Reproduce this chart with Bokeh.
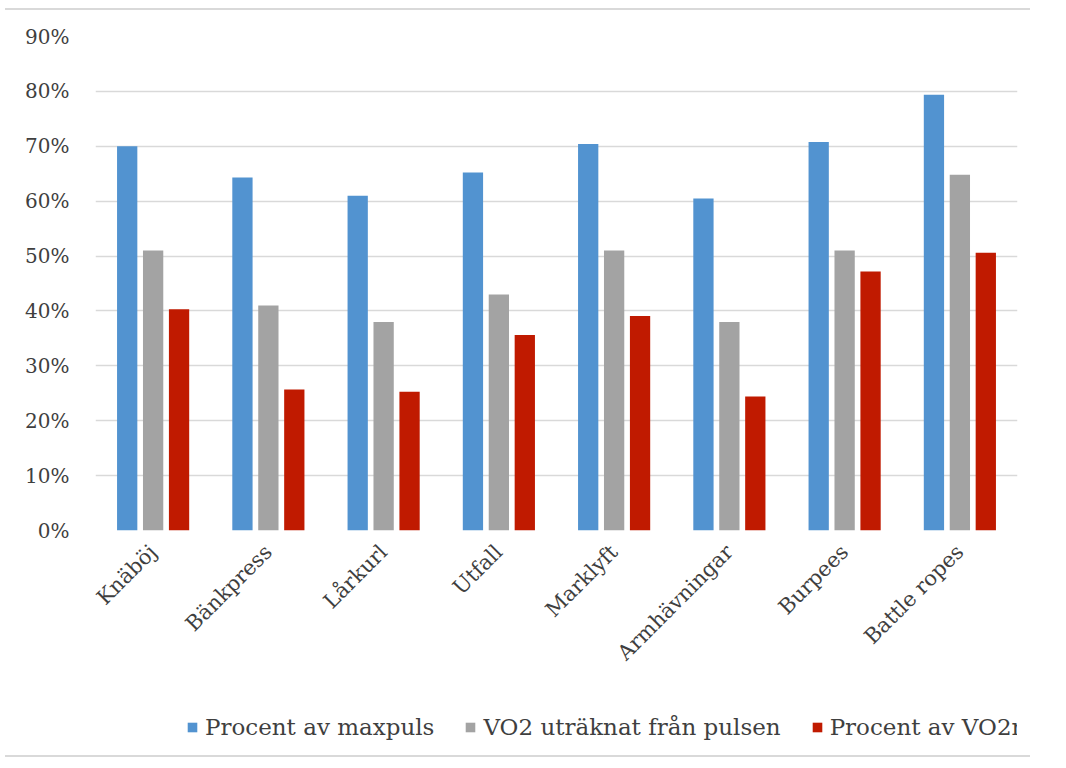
from bokeh.plotting import figure
from bokeh.models import ColumnDataSource, FactorRange, FixedTicker, NumeralTickFormatter, Legend, LegendItem, Div
from bokeh.transform import dodge
from bokeh.layouts import column
from bokeh.embed import file_html
from bokeh.resources import INLINE

categories = ["Knäböj", "Bänkpress", "Lårkurl", "Utfall", "Marklyft", "Armhävningar", "Burpees", "Battle ropes"]
series_names = ["Procent av maxpuls", "VO2 uträknat från pulsen", "Procent av VO2max"]
maxpuls = [0.70, 0.643, 0.61, 0.652, 0.704, 0.605, 0.708, 0.794]
vo2_puls = [0.51, 0.41, 0.38, 0.43, 0.51, 0.38, 0.51, 0.648]
vo2max = [0.403, 0.257, 0.253, 0.356, 0.391, 0.244, 0.472, 0.506]
y_ticks = [0, 0.1, 0.2, 0.3, 0.4, 0.5, 0.6, 0.7, 0.8, 0.9]

colors = ["#5293D0", "#A3A3A3", "#C01A00"]
FONT = "DejaVu Serif"
TXT = "#3f3f3f"

source = ColumnDataSource(dict(cat=categories, s0=maxpuls, s1=vo2_puls, s2=vo2max))

p = figure(x_range=FactorRange(*categories, range_padding=0), y_range=(0, 0.9),
           frame_width=922, frame_height=494, output_backend="svg", toolbar_location=None,
           min_border_left=95, min_border_right=33, min_border_top=26, min_border_bottom=170)

offsets = [-0.225, 0.0, 0.225]
for i, key in enumerate(["s0", "s1", "s2"]):
    p.vbar(x=dodge("cat", offsets[i], range=p.x_range), top=key, width=0.176,
           source=source, fill_color=colors[i], line_color=None)

p.outline_line_color = None
p.xgrid.grid_line_color = None
p.ygrid.grid_line_color = "#d9d9d9"
p.ygrid.grid_line_width = 1.5

p.yaxis.ticker = FixedTicker(ticks=y_ticks)
p.yaxis.formatter = NumeralTickFormatter(format="0%")
for ax in (p.xaxis, p.yaxis):
    ax.axis_line_color = None
    ax.major_tick_line_color = None
    ax.minor_tick_line_color = None
    ax.major_label_text_font = FONT
    ax.major_label_text_color = TXT
p.yaxis.major_label_text_font_size = "20px"
p.yaxis.major_label_standoff = 20
p.xaxis.major_label_text_font_size = "21px"
p.xaxis.major_label_orientation = 0.785398
p.xaxis.major_label_standoff = 12

# separate strip holding only the legend; its swatch renderers are zero-size placeholders
leg = figure(width=1050, height=44, x_range=(0, 1), y_range=(0, 1),
             output_backend="svg", toolbar_location=None, min_border=0)
leg.axis.visible = False
leg.grid.visible = False
leg.outline_line_color = None
swatches = [leg.vbar(x=[0.5], top=[0], bottom=[0], width=0, fill_color=colors[i], line_color=None)
            for i in range(3)]
legend = Legend(items=[LegendItem(label=series_names[i], renderers=[swatches[i]]) for i in range(3)],
                orientation="horizontal", location=(91, 4),
                label_text_font=FONT, label_text_font_size="23px", label_text_color=TXT,
                glyph_width=12, glyph_height=12, label_standoff=7, spacing=30,
                border_line_color=None, background_fill_alpha=0, margin=0, padding=4)
leg.add_layout(legend, "center")

top_line = Div(width=1025, height=2, margin=(8, 0, 0, 5), styles={"background-color": "#d9d9d9"})
bot_line = Div(width=1025, height=2, margin=(11, 0, 0, 5), styles={"background-color": "#d9d9d9"})
layout = column(top_line, p, leg, bot_line, spacing=0)

open("out.html", "w").write(file_html(layout, INLINE))
